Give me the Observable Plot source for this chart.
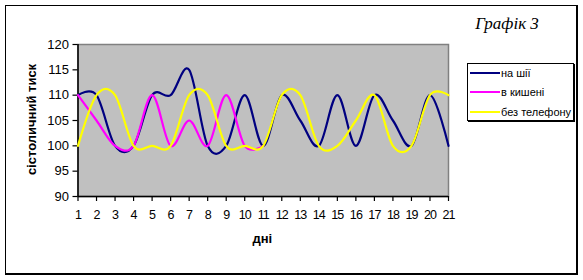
<!DOCTYPE html>
<html>
<head>
<meta charset="utf-8">
<script src="https://cdn.jsdelivr.net/npm/d3@7"></script>
<script src="https://cdn.jsdelivr.net/npm/@observablehq/plot@0.6"></script>
<style>
  html, body { margin: 0; padding: 0; background: #fff; }
  #wrap { position: relative; width: 583px; height: 280px; overflow: hidden; font-family: "Liberation Sans", Arial, sans-serif; }
  #border { position: absolute; left: 5px; top: 5px; width: 570px; height: 267px; border-left: 1px solid #000; border-top: 1px solid #000; border-right: 2px solid #000; border-bottom: 2px solid #000; pointer-events: none; }
  #title { position: absolute; left: 472px; top: 14px; width: 70px; text-align: center; font-family: "Liberation Serif", "Times New Roman", serif; font-style: italic; font-size: 17px; color: #000; white-space: nowrap; }
  #legend { position: absolute; left: 467px; top: 63px; width: 105px; height: 56px; border: 1px solid #000; box-shadow: 1px 1px 0 #000; background: #fff; }
  .item { position: absolute; left: 2px; height: 14px; font-size: 11px; line-height: 14px; color: #000; white-space: nowrap; }
  .swatch { display: inline-block; width: 30px; height: 0; border-top: 2.5px solid; vertical-align: middle; margin-right: 1px; position: relative; top: -1px; }
  #chart { position: absolute; left: 0; top: 0; }
</style>
</head>
<body>
<div id="wrap">
  <div id="chart"></div>
  <div id="border"></div>
  <div id="title"></div>
  <div id="legend"></div>
</div>
<script>
const days = d3.range(1, 22);
const yTicks = [90, 95, 100, 105, 110, 115, 120];
const seriesNames = ["на шії", "в кишені", "без телефону"];
const seriesColors = ["#000080", "#ff00ff", "#ffff00"];
const naShyi = [110, 110, 100, 100, 110, 110, 115, 100, 100, 110, 100, 110, 105, 100, 110, 100, 110, 105, 100, 110, 100];
const vKysheni = [110, 105, 100, 100, 110, 100, 105, 100, 110, 100, 100];
const bezTelefonu = [100, 110, 110, 100, 100, 100, 110, 110, 100, 100, 100, 110, 110, 100, 100, 105, 110, 100, 100, 110, 110];
const titleText = "Графік 3";
const xLabel = "дні";
const yLabel = "сістоличний тиск";

const allSeries = [naShyi, vKysheni, bezTelefonu];
const rows = allSeries.flatMap((vals, i) =>
  vals.map((v, j) => ({ day: days[j], value: v, series: seriesNames[i] }))
);

const chart = Plot.plot({
  width: 583,
  height: 280,
  marginLeft: 77.5,
  marginRight: 135,
  marginTop: 44,
  marginBottom: 84,
  style: { fontFamily: "'Liberation Sans', Arial, sans-serif", background: "transparent", color: "#000" },
  x: { domain: [1, 21] },
  y: { domain: [90, 120] },
  color: { domain: seriesNames, range: seriesColors },
  marks: [
    Plot.frame({ fill: "#c0c0c0", stroke: "#808080", strokeWidth: 1.5 }),
    Plot.axisY({ ticks: yTicks, tickSize: 5, tickPadding: 4, fontSize: 13, label: null, stroke: "#000", strokeWidth: 1.2 }),
    Plot.axisX({ ticks: days, tickSize: 5, tickPadding: 9, fontSize: 12.5, label: null, tickFormat: d => String(d), stroke: "#000", strokeWidth: 1.2 }),
    Plot.ruleX([1], { stroke: "#000", strokeWidth: 1.5 }),
    Plot.ruleY([90], { stroke: "#000", strokeWidth: 1.5 }),
    Plot.line(rows, { x: "day", y: "value", z: "series", stroke: "series", strokeWidth: 2.2, curve: "cardinal" }),
    Plot.text([yLabel], { frameAnchor: "left", textAnchor: "middle", lineAnchor: "middle", dx: -46.5, dy: -1, rotate: -90, fontSize: 13, fontWeight: "bold", fill: "#000" }),
    Plot.text([xLabel], { frameAnchor: "bottom", textAnchor: "middle", lineAnchor: "middle", dx: -1, dy: 42, fontSize: 13, fontWeight: "bold", fill: "#000" })
  ]
});

// condense the x tick labels slightly like the original
d3.select(chart).selectAll("g[aria-label='x-axis tick label'] text").style("letter-spacing", "-0.9px");

document.getElementById("chart").appendChild(chart);
document.getElementById("title").textContent = titleText;

const legend = document.getElementById("legend");
seriesNames.forEach((name, i) => {
  const item = document.createElement("div");
  item.className = "item";
  item.style.top = (2 + i * 19.3) + "px";
  const sw = document.createElement("span");
  sw.className = "swatch";
  sw.style.borderTopColor = seriesColors[i];
  item.appendChild(sw);
  item.appendChild(document.createTextNode(name));
  legend.appendChild(item);
});
</script>
</body>
</html>
